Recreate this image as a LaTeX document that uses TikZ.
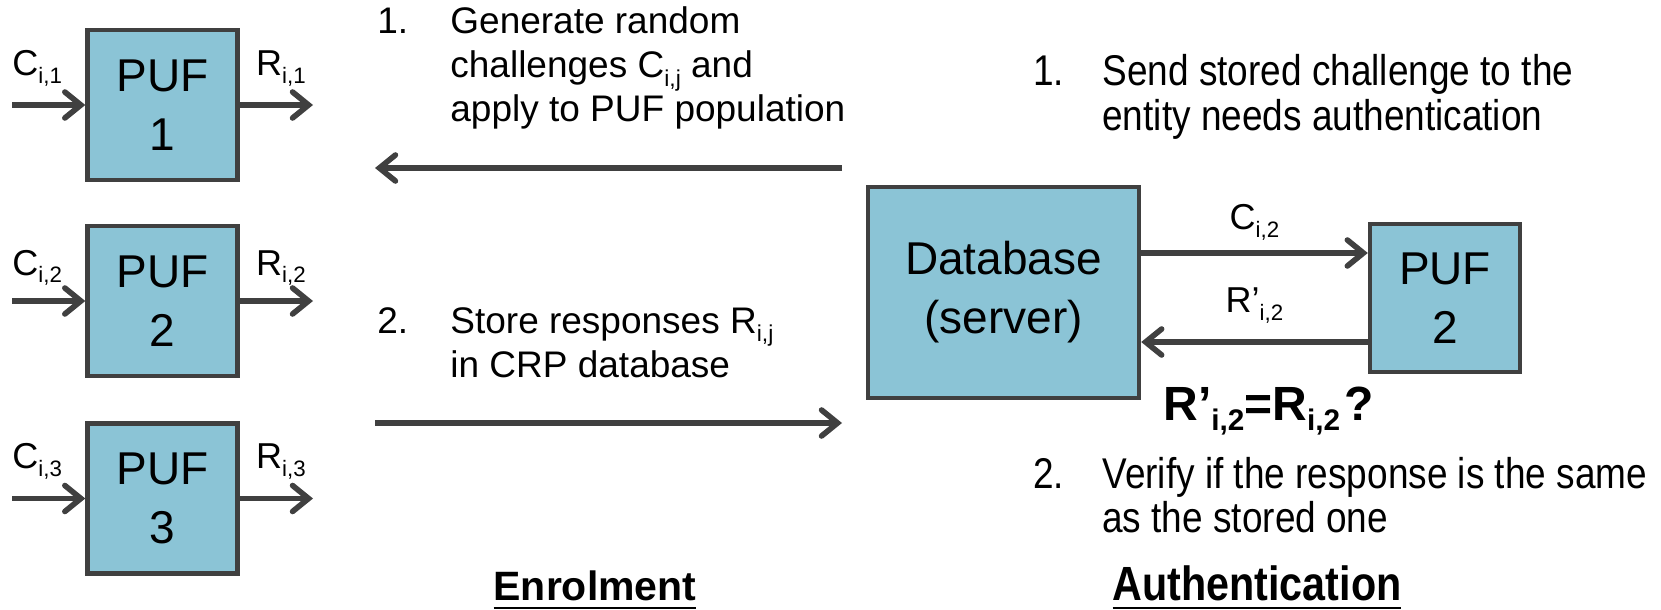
\documentclass[tikz,border=0pt]{standalone}
\usepackage{fontspec}
\setmainfont{Liberation Sans}
\newfontfamily\narrowsans[FakeStretch=0.86]{Liberation Sans}
\usepackage{graphicx}
\usetikzlibrary{arrows.meta,positioning}
\definecolor{pufblue}{RGB}{139,196,214}
\definecolor{darkline}{RGB}{64,64,64}
\newcommand{\lowsub}[1]{\raisebox{-0.22em}{\scalebox{0.62}{#1}}}
\newcommand{\titleline}[1]{\setbox0\hbox{#1}\rlap{\rule[-4.5pt]{\wd0}{1.2pt}}\box0}

\tikzset{
  pufbox/.style={draw=darkline, fill=pufblue, line width=2.2pt, minimum width=75pt, minimum height=75pt,
    align=center, inner sep=0pt, font=\fontsize{23}{29.5}\selectfont},
  flow/.style={darkline, line width=2.8pt, -{Straight Barb[length=8pt,width=13pt,line cap=round]}},
  sig/.style={inner sep=0pt, text=black, font=\fontsize{18}{22}\selectfont},
  note/.style={inner sep=0pt, anchor=base west, font=\fontsize{18.5}{22}\selectfont},
  authnote/.style={inner sep=0pt, anchor=base west, font=\narrowsans\fontsize{21.5}{22}\selectfont},
}

\begin{document}
\begin{tikzpicture}[x=0.5pt, y=-0.5pt]
\useasboundingbox (0,0) rectangle (1661,610);

% PUF population
\node[pufbox] (puf1) at (162.5,105) {PUF\\1};
\node[pufbox] (puf2) at (162.5,301) {PUF\\2};
\node[pufbox] (puf3) at (162.5,498.5) {PUF\\3};
\coordinate (in1) at (12,105);
\coordinate (in2) at (12,301);
\coordinate (in3) at (12,498.5);
\coordinate (out1) at (313,105);
\coordinate (out2) at (313,301);
\coordinate (out3) at (313,498.5);
\draw[flow] (in1) -- (puf1);
\draw[flow] (in2) -- (puf2);
\draw[flow] (in3) -- (puf3);
\draw[flow] (puf1) -- (out1);
\draw[flow] (puf2) -- (out2);
\draw[flow] (puf3) -- (out3);
\node[sig, anchor=base west] (c1) at ([yshift=14.5pt]in1) {C\lowsub{i,1}};
\node[sig, anchor=base west] (c2) at ([yshift=13pt]in2) {C\lowsub{i,2}};
\node[sig, anchor=base west] (c3) at ([yshift=15pt]in3) {C\lowsub{i,3}};
\node[sig, anchor=base west] (r1) at ([xshift=8pt,yshift=14.5pt]puf1.east) {R\lowsub{i,1}};
\node[sig, anchor=base west] (r2) at ([xshift=8pt,yshift=13pt]puf2.east) {R\lowsub{i,2}};
\node[sig, anchor=base west] (r3) at ([xshift=8pt,yshift=15pt]puf3.east) {R\lowsub{i,3}};

% enrolment
\node[note] (enrnum1) at (377,34) {1.};
\node[note] (enrtxt1) at (450,34) {\begin{tabular}[t]{@{}l@{}}Generate random\\challenges C\lowsub{i,j} and\\apply to PUF population\end{tabular}};
\node[note] (enrnum2) at (377,333) {2.};
\node[note] (enrtxt2) at (450,333) {\begin{tabular}[t]{@{}l@{}}Store responses R\lowsub{i,j}\\in CRP database\end{tabular}};
\coordinate (enra) at (842,168);
\coordinate (enrb) at (375,168);
\coordinate (enrc) at (375,423);
\coordinate (enrd) at (842,423);
\draw[flow] (enra) -- (enrb);
\draw[flow] (enrc) -- (enrd);

% authentication
\node[pufbox, minimum width=135.5pt, minimum height=105.5pt] (db) at (1003.5,292.5) {Database\\(server)};
\node[pufbox, minimum height=74pt] (pufa) at (1445,298) {PUF\\2};
\coordinate (chal) at ([yshift=19.75pt]db.east);
\coordinate (resp) at ([yshift=-24.75pt]db.east);
\draw[flow] (chal) -- (chal -| pufa.west) node[sig, midway, above=5pt] (ci2) {C\lowsub{i,2}};
\draw[flow] (resp -| pufa.west) -- (resp) node[sig, midway, above=8pt] (rp2) {R’\lowsub{i,2}};
\node[inner sep=0pt, anchor=base west, font=\bfseries\fontsize{24}{28}\selectfont] (check) at (1163,420)
  {R’\lowsub{i,2}=R\lowsub{i,2}\kern2pt?};
\node[authnote] (authnum1) at (1033,86) {1.};
\node[authnote] (authtxt1) at (1102,86) {\begin{tabular}[t]{@{}l@{}}Send stored challenge to the\\entity needs authentication\end{tabular}};
\node[authnote] (authnum2) at (1033,488) {2.};
\node[authnote] (authtxt2) at (1102,488) {\begin{tabular}[t]{@{}l@{}}Verify if the response is the same\\as the stored one\end{tabular}};

% titles
\node[inner sep=0pt, anchor=base, font=\bfseries\fontsize{20.5}{24}\selectfont] (enrol) at (595,600) {\titleline{Enrolment}};
\node[inner sep=0pt, anchor=base, font=\narrowsans\bfseries\fontsize{24}{28}\selectfont] (authn) at (1257,600) {\titleline{Authentication}};
\end{tikzpicture}
\end{document}
